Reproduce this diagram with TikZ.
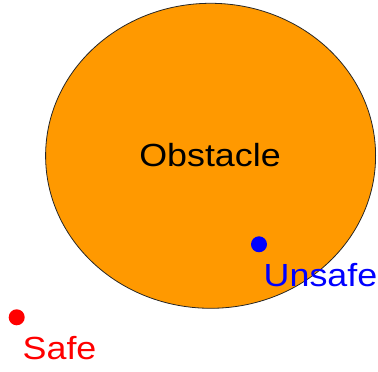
\documentclass[tikz,border=0pt]{standalone}
\usepackage{fontspec}
\setmainfont{Liberation Sans}
\usepackage{tikz}
\usetikzlibrary{positioning,shapes.geometric}
\definecolor{obstorange}{HTML}{FF9900}
\newcommand{\widetxt}[1]{\scalebox{1.12}[1]{#1}}

\begin{document}
\begin{tikzpicture}[x=1pt, y=1pt,
  every node/.style={font=\fontsize{32}{35}\selectfont, inner sep=0pt},
  obst/.style={ellipse, draw=black!85, line width=0.8pt, fill=obstorange,
    minimum width=330pt, minimum height=305pt},
  dot/.style={circle, minimum size=16pt},
  lab/.style={anchor=base west}]
  \useasboundingbox (0,0) rectangle (378,372);
  \node[obst] (obs) at (210.6,216.2) {};
  \node[anchor=base] (obslab) at (210,205) {\widetxt{Obstacle}};
  \node[dot, fill=blue] (unsafe) at (259,127.7) {};
  \node[lab, text=blue] (unsafelab) at (263.5,85.3) {\widetxt{Unsafe}};
  \node[dot, fill=red] (safe) at (16.7,54.7) {};
  \node[lab, text=red] (safelab) at (22.5,12.7) {\widetxt{Safe}};
\end{tikzpicture}
\end{document}
